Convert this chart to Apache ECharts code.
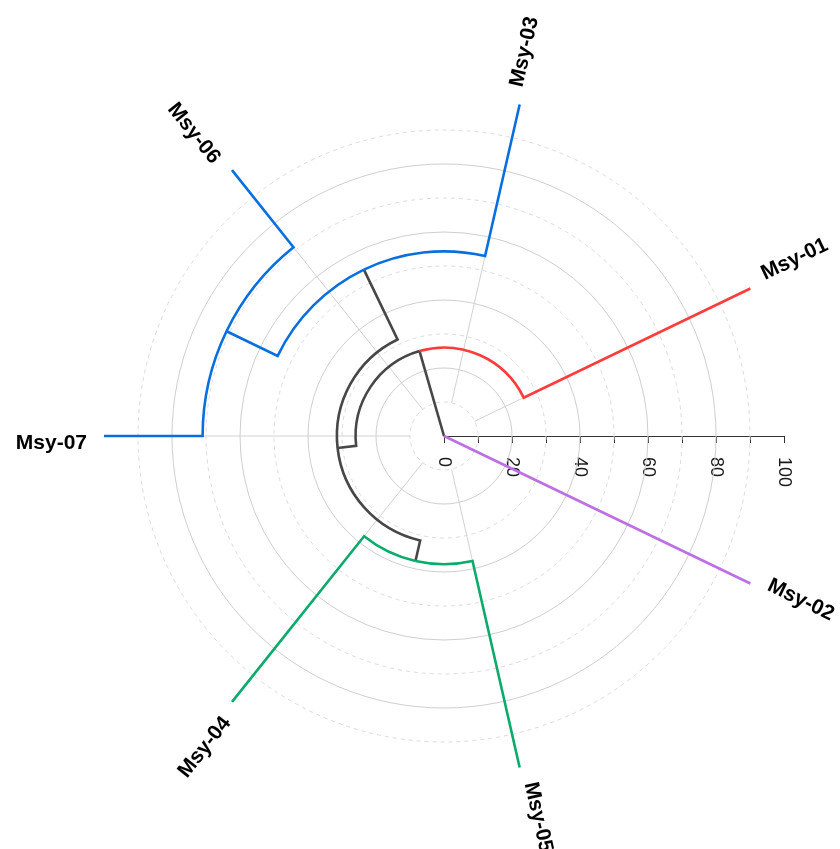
<!DOCTYPE html>
<html>
<head>
<meta charset="utf-8">
<script src="https://cdn.jsdelivr.net/npm/echarts@6/dist/echarts.min.js"></script>
<style>
  html, body { margin: 0; padding: 0; background: #fff; }
  #chart { width: 840px; height: 849px; }
</style>
</head>
<body>
<div id="chart"></div>
<script>
// Leaves in counter-clockwise order, starting just above the radius axis
const leafNames = ['Msy-01', 'Msy-03', 'Msy-06', 'Msy-07', 'Msy-04', 'Msy-05', 'Msy-02'];
const leafHeight = 100;

// Merges of the clustering: name, merge height, the two merged members
const mergeNames = ['root', 'n1', 'n2', 'n3', 'n4', 'n5'];
const mergeHeights = [0, 26, 31.5, 54.3, 37.7, 71];
const mergeChildren = [
  ['n1', 'Msy-02'],
  ['Msy-01', 'n2'],
  ['n3', 'n4'],
  ['Msy-03', 'n5'],
  ['Msy-04', 'Msy-05'],
  ['Msy-06', 'Msy-07']
];

// Grid rings, spoke start and labelled radius ticks
const ringLevels = [10, 20, 30, 40, 50, 60, 70, 80, 90];
const spokeStart = 10;
const radiusTicks = [0, 20, 40, 60, 80, 100];

// Branch colours, keyed by the member a branch leads to
const RED = '#ff3c3c', PURPLE = '#bd6fe3', BLUE = '#0a6fde', GREEN = '#0caa6c', DARK = '#474747';
const branchColor = {
  'Msy-01': RED, 'Msy-02': PURPLE,
  'Msy-03': BLUE, 'n5': BLUE, 'Msy-06': BLUE, 'Msy-07': BLUE,
  'Msy-04': GREEN, 'Msy-05': GREEN
};

// Dendrogram layout: leaves evenly spread round the circle, merges at the mean angle of their members
const step = 360 / leafNames.length;
const angleOf = {}, heightOf = {};
leafNames.forEach((n, i) => { angleOf[n] = (i + 0.5) * step; heightOf[n] = leafHeight; });
mergeNames.forEach((n, i) => { heightOf[n] = mergeHeights[i]; });
function place(n) {
  if (n in angleOf) return angleOf[n];
  const [a, b] = mergeChildren[mergeNames.indexOf(n)];
  angleOf[n] = (place(a) + place(b)) / 2;
  return angleOf[n];
}
place('root');

// One branch per merged member: arc at the merge height, then a radial run out to the member
const branchNames = [];
const branchData = [];
mergeNames.forEach((p, i) => {
  mergeChildren[i].forEach(c => {
    branchNames.push(c);
    branchData.push([angleOf[p], heightOf[p], angleOf[c], heightOf[c]]);
  });
});
const leafData = leafNames.map(n => [leafHeight, angleOf[n]]);
const ringData = ringLevels.map(v => [v, 0]);
const spokeData = leafNames.map(n => [angleOf[n]]);

const FONT = '"Liberation Sans", Arial, Helvetica, sans-serif';
const CX = 444, CY = 436, R = 340;

function ringItem(params, api) {
  const lv = api.value(0);
  const cx = params.coordSys.cx, cy = params.coordSys.cy;
  const p = api.coord([lv, 0]);
  const r = Math.hypot(p[0] - cx, p[1] - cy);
  const major = lv % 20 === 0;
  return {
    type: 'circle',
    shape: { cx: cx, cy: cy, r: r },
    style: {
      fill: 'none',
      stroke: major ? '#cfcfcf' : '#dcdcdc',
      lineWidth: 1,
      lineDash: major ? null : [4, 4]
    },
    silent: true
  };
}

function spokeItem(params, api) {
  const a = api.value(0);
  const p0 = api.coord([spokeStart, a]);
  const p1 = api.coord([leafHeight, a]);
  return {
    type: 'line',
    shape: { x1: p0[0], y1: p0[1], x2: p1[0], y2: p1[1] },
    style: { stroke: '#d2d2d2', lineWidth: 1 },
    silent: true
  };
}

function branchItem(params, api) {
  const pa = api.value(0), ph = api.value(1), ca = api.value(2), ch = api.value(3);
  const cx = params.coordSys.cx, cy = params.coordSys.cy;
  const p0 = api.coord([ph, pa]);
  const p1 = api.coord([ph, ca]);
  const p2 = api.coord([ch, ca]);
  const r = Math.hypot(p1[0] - cx, p1[1] - cy);
  let d;
  if (r < 0.5) {
    d = 'M' + cx + ' ' + cy + 'L' + p2[0] + ' ' + p2[1];
  } else {
    const diff = ca - pa;
    const sweep = diff > 0 ? 0 : 1;
    const large = Math.abs(diff) > 180 ? 1 : 0;
    d = 'M' + p0[0] + ' ' + p0[1] +
        'A' + r + ' ' + r + ' 0 ' + large + ' ' + sweep + ' ' + p1[0] + ' ' + p1[1] +
        'L' + p2[0] + ' ' + p2[1];
  }
  const color = branchColor[branchNames[params.dataIndex]] || DARK;
  return {
    type: 'path',
    shape: { pathData: d },
    style: { fill: 'none', stroke: color, lineWidth: 2.6, lineJoin: 'miter', lineCap: 'butt' }
  };
}

function labelItem(params, api) {
  const h = api.value(0), a = api.value(1);
  const p = api.coord([h, a]);
  const rad = a * Math.PI / 180;
  const ux = Math.cos(rad), uy = -Math.sin(rad);   // outward
  const nx = -Math.sin(rad), ny = -Math.cos(rad);  // counter-clockwise side
  const gap = 17, side = 7;
  const x = p[0] + ux * gap + nx * side;
  const y = p[1] + uy * gap + ny * side;
  const outward = Math.cos(rad) > 0;
  return {
    type: 'text',
    x: x, y: y,
    rotation: outward ? rad : rad - Math.PI,
    style: {
      text: leafNames[params.dataIndex],
      fill: '#000',
      font: 'bold 21px ' + FONT,
      align: outward ? 'left' : 'right',
      verticalAlign: 'middle'
    }
  };
}

const chart = echarts.init(document.getElementById('chart'));
chart.setOption({
  backgroundColor: '#fff',
  animation: false,
  polar: { center: [CX, CY], radius: R },
  angleAxis: {
    type: 'value', min: 0, max: 360, startAngle: 0, clockwise: false,
    axisLine: { show: false }, axisTick: { show: false },
    axisLabel: { show: false }, splitLine: { show: false }
  },
  radiusAxis: {
    type: 'value', min: 0, max: 100, interval: 10,
    axisLine: { show: false }, axisTick: { show: false },
    axisLabel: { show: false }, splitLine: { show: false }
  },
  // Height scale laid along the zero-degree ray, ticks and labels underneath
  grid: { left: CX, top: CY - 100, width: R, height: 100 },
  xAxis: {
    type: 'value', min: 0, max: 100, interval: 10,
    axisLine: { show: true, lineStyle: { color: '#333', width: 1 } },
    axisTick: { show: true, length: 7, lineStyle: { color: '#333', width: 1 } },
    axisLabel: {
      rotate: -90, margin: 21,
      fontSize: 18, color: '#1a1a1a', fontFamily: FONT,
      formatter: v => (radiusTicks.indexOf(v) >= 0 ? String(v) : '')
    },
    splitLine: { show: false }
  },
  yAxis: { type: 'value', min: 0, max: 1, show: false },
  series: [
    { type: 'custom', coordinateSystem: 'polar', renderItem: ringItem, data: ringData, z: 1, silent: true },
    { type: 'custom', coordinateSystem: 'polar', renderItem: spokeItem, data: spokeData, z: 1, silent: true,
      encode: { angle: 0 } },
    { type: 'custom', coordinateSystem: 'polar', renderItem: branchItem, data: branchData, z: 3,
      encode: { angle: 0, radius: 1 } },
    { type: 'custom', coordinateSystem: 'polar', renderItem: labelItem, data: leafData, z: 4,
      encode: { radius: 0, angle: 1 } }
  ]
});
</script>
</body>
</html>
